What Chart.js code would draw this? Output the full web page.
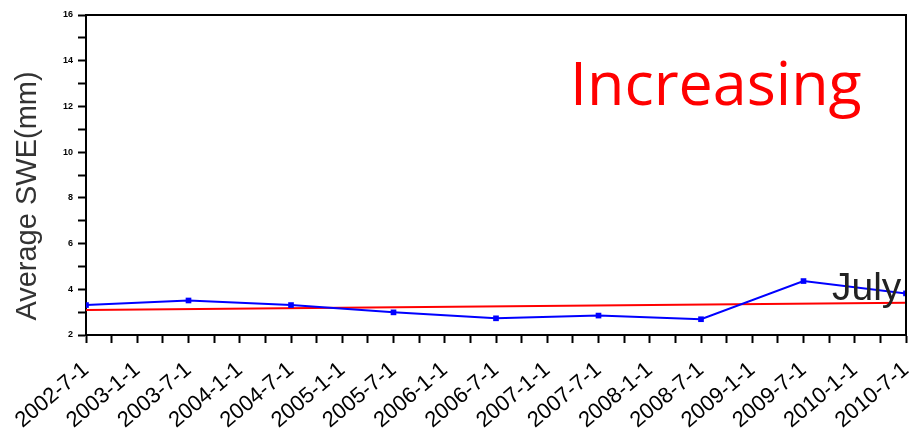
<!DOCTYPE html>
<html>
<head>
<meta charset="utf-8">
<script src="https://cdn.jsdelivr.net/npm/chart.js@4.4.1/dist/chart.umd.min.js"></script>
<style>
  html, body { margin: 0; padding: 0; background: #fff; }
  #wrap { width: 914px; height: 447px; }
</style>
</head>
<body>
<div id="wrap"><canvas id="swe"></canvas></div>
<script>
// ticks along the bottom, every half year
const tickLabels = ['2002-7-1', '2003-1-1', '2003-7-1', '2004-1-1', '2004-7-1', '2005-1-1',
  '2005-7-1', '2006-1-1', '2006-7-1', '2007-1-1', '2007-7-1', '2008-1-1', '2008-7-1',
  '2009-1-1', '2009-7-1', '2010-1-1', '2010-7-1'];

// july average SWE
const fechas = ['2002-7-1', '2003-7-1', '2004-7-1', '2005-7-1', '2006-7-1',
  '2007-7-1', '2008-7-1', '2009-7-1', '2010-7-1'];
const swe = [3.31, 3.51, 3.31, 2.99, 2.73, 2.85, 2.69, 4.36, 3.82];

// linear trend
const fechasTendencia = ['2002-7-1', '2010-7-1'];
const tendencia = [3.09, 3.41];

// months since 2002-7
function mes(f) {
  const p = f.split('-');
  return (parseInt(p[0]) - 2002) * 12 + (parseInt(p[1]) - 7);
}

const puntos = fechas.map((f, i) => ({ x: mes(f), y: swe[i] }));
const puntosTendencia = fechasTendencia.map((f, i) => ({ x: mes(f), y: tendencia[i] }));

const textos = {
  id: 'textos',
  afterDatasetsDraw(chart) {
    const c = chart.ctx;
    const a = chart.chartArea;
    c.save();
    // frame top / right
    c.strokeStyle = '#000';
    c.lineWidth = 2;
    c.beginPath();
    c.moveTo(a.left, a.top);
    c.lineTo(a.right, a.top);
    c.lineTo(a.right, a.bottom);
    c.stroke();

    c.fillStyle = '#ff0000';
    c.font = '61px "Open Sans"';
    c.textBaseline = 'alphabetic';
    c.fillText('Increasing', 570, 105);

    c.fillStyle = '#222';
    c.font = '39px "Liberation Sans"';
    c.fillText('July', 832, 300);

    // y title
    c.translate(28, 196);
    c.rotate(-Math.PI / 2);
    c.fillStyle = '#333';
    c.font = '29px "Liberation Sans"';
    c.textAlign = 'center';
    c.textBaseline = 'middle';
    c.fillText('Average SWE(mm)', 0, 0);
    c.restore();
  }
};

new Chart(document.getElementById('swe').getContext('2d'), {
  type: 'line',
  data: {
    datasets: [{
      label: 'SWE',
      data: puntos,
      borderColor: '#0000ff',
      backgroundColor: '#0000ff',
      borderWidth: 2,
      pointStyle: 'rect',
      pointRadius: 4,
      pointBorderWidth: 0,
      tension: 0
    }, {
      label: 'Tendencia',
      data: puntosTendencia,
      borderColor: '#ff0000',
      borderWidth: 2,
      pointRadius: 0,
      tension: 0
    }]
  },
  options: {
    responsive: true,
    maintainAspectRatio: false,
    animation: false,
    layout: { padding: { top: 15, right: 0, left: 0, bottom: 0 } },
    plugins: {
      legend: { display: false },
      tooltip: { enabled: false }
    },
    scales: {
      x: {
        type: 'linear',
        min: 0,
        max: 96,
        afterFit(s) { s.height = 112; s.paddingRight = 8; s.paddingLeft = 0; },
        afterBuildTicks(s) {
          s.ticks = [];
          for (let v = 0; v <= 96; v += 3) s.ticks.push({ value: v });
        },
        border: { color: '#000', width: 2 },
        grid: { drawOnChartArea: false, drawTicks: true, tickLength: 8, color: '#000', tickWidth: 2 },
        ticks: {
          autoSkip: false,
          minRotation: 40,
          maxRotation: 40,
          padding: 14,
          color: '#000',
          font: { family: 'Liberation Sans', size: 22 },
          callback: (v) => (v % 6 === 0 ? tickLabels[v / 6] : '')
        }
      },
      y: {
        min: 2,
        max: 16,
        afterFit(s) { s.width = 86; },
        border: { color: '#000', width: 2 },
        grid: { drawOnChartArea: false, drawTicks: true, tickLength: 8, color: '#000', tickWidth: 2 },
        ticks: {
          stepSize: 1,
          padding: 5,
          color: '#000',
          font: { family: 'Liberation Sans', size: 9, weight: 'bold' },
          callback: (v) => (v % 2 === 0 ? v : '')
        }
      }
    }
  },
  plugins: [textos]
});
</script>
</body>
</html>
